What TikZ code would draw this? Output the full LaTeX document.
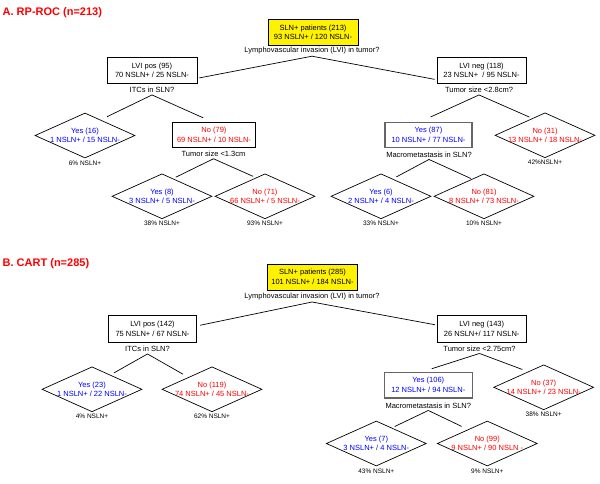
\documentclass[tikz,border=0pt]{standalone}
\usepackage{fontspec}
\setmainfont{Liberation Sans}
\usetikzlibrary{shapes.geometric}
\newcommand{\boxfont}{\fontsize{7.5}{9.5}\selectfont}
\newcommand{\pctfont}{\fontsize{6.5}{7.5}\selectfont}
\newcommand{\titlefont}{\fontsize{11}{13}\selectfont\bfseries}
\definecolor{yesblue}{RGB}{0,0,255}
\definecolor{nored}{RGB}{255,0,0}
\begin{document}
\begin{tikzpicture}[x=1pt,y=-1pt]
        \tikzstyle{title}=[anchor=base west,inner sep=0pt,text=nored,font=\titlefont]
        \tikzstyle{split}=[rectangle,draw=black,line width=0.7pt,minimum width=89pt,minimum height=26pt,inner sep=0pt,align=center,font=\boxfont]
        \tikzstyle{root}=[split,fill=yellow]
        \tikzstyle{yesbox}=[split,draw=black!60,line width=1.5pt,text=yesblue]
        \tikzstyle{leaf}=[diamond,draw=black,line width=0.7pt,minimum width=100pt,minimum height=45pt,aspect=2.2,inner xsep=-6pt,inner ysep=0pt,align=center,font=\boxfont]
        \tikzstyle{question}=[inner sep=2pt,font=\boxfont]
        \tikzstyle{pct}=[inner sep=1pt,label distance=1pt,font=\pctfont]
        \tikzstyle{edge}=[draw,line width=0.7pt]
        \useasboundingbox (0,0) rectangle (600,483);
       \begin{scope}
         \node [title] (ta) at (2.5,15) {A. RP-ROC (n=213)};

         \node [root,minimum width=90pt] (a0) at (313,32.5) {SLN+ patients (213)\\93 NSLN+ / 120 NSLN-};
         \node [question] (a0q) at (312,50.5) {Lymphovascular invasion (LVI) in tumor?};

         \node [split,minimum width=90pt] (a1) at (152,70.3) {LVI pos (95)\\70 NSLN+ / 25 NSLN-};
         \node [question] (a1q) at (152,90) {ITCs in SLN?};
         \node [split] (a2) at (481.5,70.2) {LVI neg (118)\\23 NSLN+ \ / 95 NSLN-};
         \node [question] (a2q) at (479,90) {Tumor size <2.8cm?};

         \node [leaf,text=yesblue,label={[pct]below:6\% NSLN+}] (a11) at (85,135.5) {Yes (16)\\1 NSLN+ / 15 NSLN-};
         \node [split,text=nored,minimum width=83.5pt,minimum height=25.5pt] (a12) at (214,135) {No (79)\\69 NSLN+ / 10 NSLN-};
         \node [question] (a12q) at (213.5,153.8) {Tumor size <1.3cm};
         \node [leaf,text=yesblue,label={[pct]below:38\% NSLN+}] (a121) at (162,196.3) {Yes (8)\\3 NSLN+ / 5 NSLN-};
         \node [leaf,text=nored,label={[pct]below:93\% NSLN+}] (a122) at (265,196.3) {No (71)\\66 NSLN+ / 5 NSLN-};

         \node [yesbox,minimum width=87pt,minimum height=24.6pt] (a21) at (428.5,135) {Yes (87)\\10 NSLN+ / 77 NSLN-};
         \node [question] (a21q) at (429,154.5) {Macrometastasis in SLN?};
         \node [leaf,text=nored,label={[pct]below:42\%NSLN+}] (a22) at (545,135.3) {No (31)\\13 NSLN+ / 18 NSLN-};
         \node [leaf,text=yesblue,label={[pct]below:33\% NSLN+}] (a211) at (381,196.3) {Yes (6)\\2 NSLN+ / 4 NSLN-};
         \node [leaf,text=nored,label={[pct]below:10\% NSLN+}] (a212) at (484,196.3) {No (81)\\8 NSLN+ / 73 NSLN-};

         \path[edge] (a0q.south) edge [shorten >=2pt] (a1.-10);
         \path[edge] (a0q.south) edge [shorten >=2pt] (a2.192);
         \path[edge] (a1q.south) edge [shorten >=7pt] (a11.45);
         \path[edge] (a1q.south) edge [shorten >=10pt] (a12.97);
         \path[edge] (a12q.south) edge [shorten >=3pt] (a121.58);
         \path[edge] (a12q.south) edge [shorten >=3pt] (a122.116);
         \path[edge] (a2q.south) edge [shorten >=12pt] (a21.124);
         \path[edge] (a2q.south) edge [shorten >=3pt] (a22.127);
         \path[edge] (a21q.south) edge [shorten >=4pt] (a211.56);
         \path[edge] (a21q.south) edge [shorten >=1pt] (a212.125);
        \end{scope}

       \begin{scope}
         \node [title] (tb) at (2.5,266.7) {B. CART (n=285)};

         \node [root,minimum width=90pt] (b0) at (312.5,277) {SLN+ patients (285)\\101 NSLN+ / 184 NSLN-};
         \node [question] (b0q) at (312,296.3) {Lymphovascular invasion (LVI) in tumor?};

         \node [split,minimum width=88.5pt,minimum height=26.5pt] (b1) at (152.5,329) {LVI pos (142)\\75 NSLN+ / 67 NSLN-};
         \node [question] (b1q) at (147.5,349) {ITCs in SLN?};
         \node [split,minimum height=26.5pt] (b2) at (481.7,329) {LVI neg (143)\\26 NSLN+/ 117 NSLN-};
         \node [question] (b2q) at (479.5,348.5) {Tumor size <2.75cm?};

         \node [leaf,text=yesblue,label={[pct]below:4\% NSLN+}] (b11) at (92,389.3) {Yes (23)\\1 NSLN+ / 22 NSLN-};
         \node [leaf,text=nored,label={[pct]below:62\% NSLN+}] (b12) at (212,389.3) {No (119)\\74 NSLN+ / 45 NSLN-};

         \node [yesbox,minimum width=88pt,minimum height=25.5pt] (b21) at (428.3,385) {Yes (106)\\12 NSLN+ / 94 NSLN-};
         \node [question] (b21q) at (428.3,405.5) {Macrometastasis in SLN?};
         \node [leaf,text=nored,label={[pct]below:38\% NSLN+}] (b22) at (543.7,387.3) {No (37)\\14 NSLN+ / 23 NSLN-};
         \node [leaf,text=yesblue,label={[pct]below:43\% NSLN+}] (b211) at (376.3,443.5) {Yes (7)\\3 NSLN+ / 4 NSLN-};
         \node [leaf,text=nored,label={[pct]below:9\% NSLN+}] (b212) at (487.3,443.5) {No (99)\\9 NSLN+ / 90 NSLN -};

         \path[edge] (b0q.south) edge [shorten >=3pt] (b1.4);
         \path[edge] (b0q.south) edge [shorten >=2pt] (b2.175);
         \path[edge] (b1q.south) edge [shorten >=4pt] (b11.38);
         \path[edge] (b1q.south) edge [shorten >=6pt] (b12.153);
         \path[edge] (b2q.south) edge [shorten >=9pt] (b21.111);
         \path[edge] (b2q.south) edge [shorten >=6pt] (b22.135);
         \path[edge] (b21q.south) edge [shorten >=3pt] (b211.45);
         \path[edge] (b21q.south) edge [shorten >=7pt] (b212.144);
        \end{scope}
      \end{tikzpicture}
\end{document}
